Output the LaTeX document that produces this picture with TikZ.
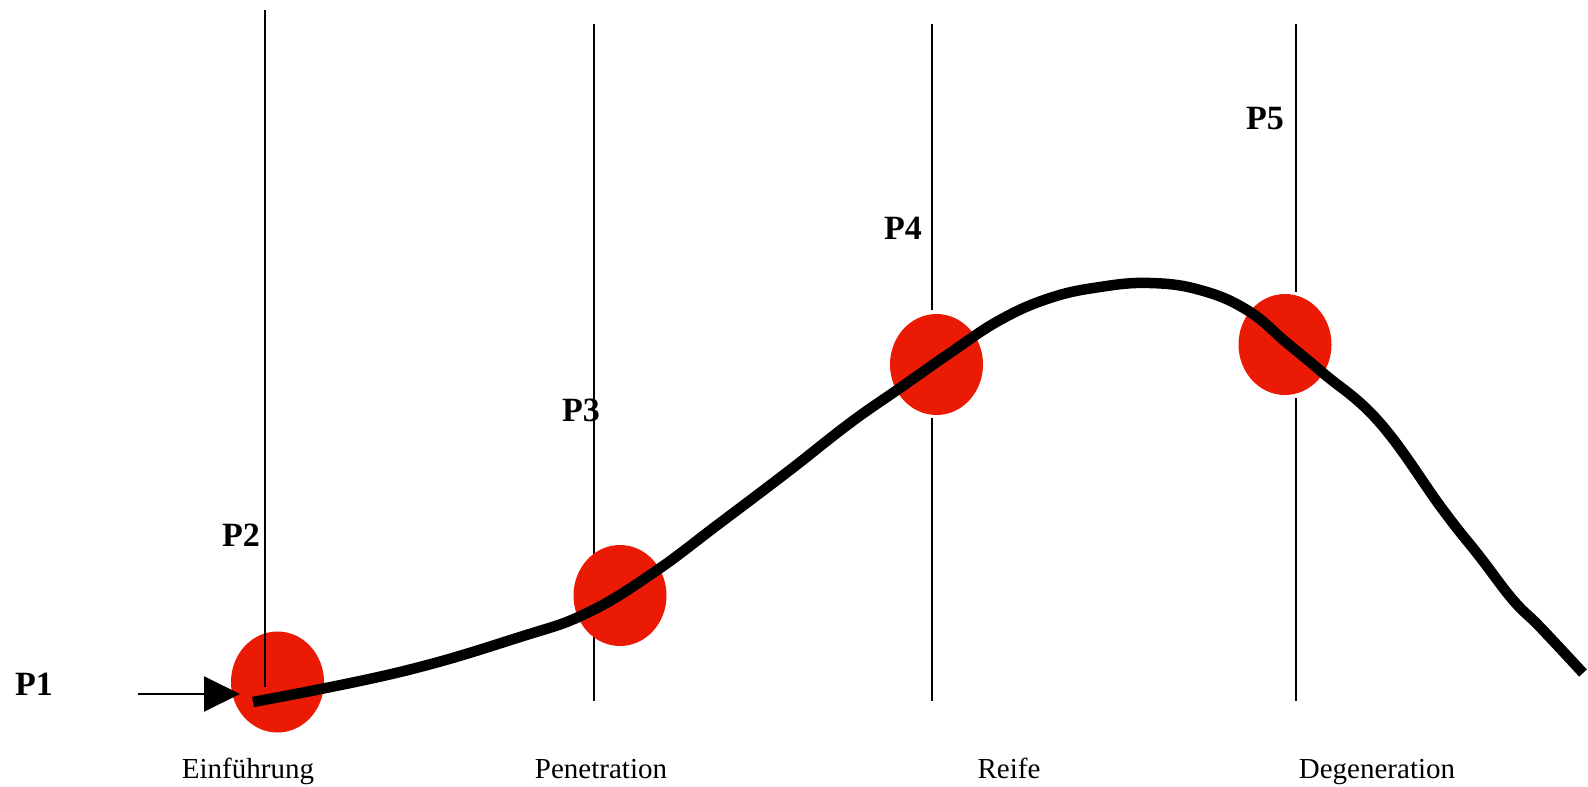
\documentclass[tikz,border=0pt]{standalone}
\usepackage{fontspec}
\setmainfont{Liberation Serif}
\usetikzlibrary{shapes.geometric,arrows.meta}
\definecolor{dotred}{RGB}{234,26,5}
\tikzset{
  dot/.style={ellipse, fill=dotred, draw=none, inner sep=0pt, minimum width=93pt, minimum height=101pt},
  vline/.style={line width=1.8pt, black},
  plabel/.style={font=\fontsize{34}{36}\selectfont\bfseries, inner sep=0pt},
  phase/.style={font=\fontsize{29}{32}\selectfont, inner sep=0pt, anchor=base},
  curve/.style={line width=10.5pt, black, line join=round}
}
\begin{document}
\begin{tikzpicture}[x=1pt,y=-1pt]
\useasboundingbox (0,0) rectangle (1588,787);
% vertical lines
\coordinate (l2t) at (594,24); \coordinate (l2b) at (594,701);
\draw[vline] (l2t) -- (l2b);
\coordinate (l3t) at (932,24); \coordinate (l3m) at (932,310);
\coordinate (l3n) at (932,418); \coordinate (l3b) at (932,701);
\draw[vline] (l3t) -- (l3m) (l3n) -- (l3b);
\coordinate (l4t) at (1296,24); \coordinate (l4m) at (1296,292);
\coordinate (l4n) at (1296,398); \coordinate (l4b) at (1296,701);
\draw[vline] (l4t) -- (l4m) (l4n) -- (l4b);
% dots
\node[dot] (c1) at (277.5,682) {};
\node[dot] (c2) at (620,595.5) {};
\node[dot] (c3) at (936.5,364.5) {};
\node[dot] (c4) at (1285,344.5) {};
% first vertical line on top of first dot
\coordinate (l1t) at (265,10); \coordinate (l1b) at (265,687);
\draw[vline] (l1t) -- (l1b);
% curve
\draw[curve] plot[smooth, tension=0.7] coordinates {
  (253,702) (400,672) (520,637) (587,613) (653,573) (720,523) (790,470)
  (850,423) (900,388) (950,353) (1000,320) (1050,298) (1100,287) (1150,283)
  (1200,290) (1247,310) (1287,343) (1323,373) (1380,423) (1443,510)
  (1480,557) (1513,600) (1540,627) (1583,673)};
% arrow
\coordinate (as) at (138,694); \coordinate (ae) at (240,694);
\draw[line width=2pt, -{Triangle[length=36pt,width=35pt]}] (as) -- (ae);
% labels
\node[plabel] (p1) at (34,684) {P1};
\node[plabel] (p2) at (241,535) {P2};
\node[plabel] (p3) at (581,410) {P3};
\node[plabel] (p4) at (903,228) {P4};
\node[plabel] (p5) at (1265,119) {P5};
\node[phase] (t1) at (248,778) {Einführung};
\node[phase] (t2) at (601,778) {Penetration};
\node[phase] (t3) at (1009,778) {Reife};
\node[phase] (t4) at (1377,778) {Degeneration};
\end{tikzpicture}
\end{document}
